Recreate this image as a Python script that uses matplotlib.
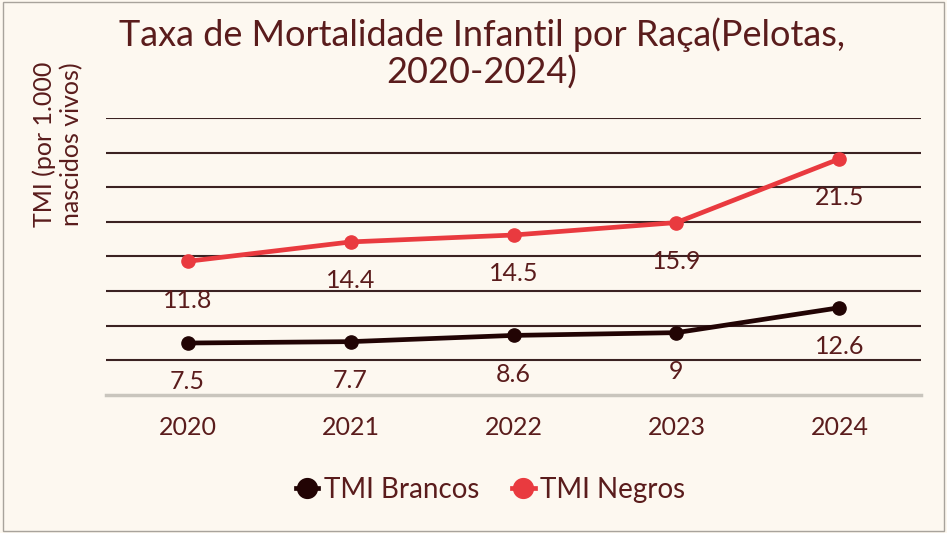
import numpy as np
import matplotlib.pyplot as plt
from matplotlib.patches import Rectangle

# Dados (gráfico de linhas empilhadas)
anos = ['2020', '2021', '2022', '2023', '2024']
tmi_brancos = [7.5, 7.7, 8.6, 9, 12.6]
tmi_negros = [11.8, 14.4, 14.5, 15.9, 21.5]

fundo = '#fdf8f0'
texto = '#5a1c1c'
cor_brancos = '#220404'
cor_negros = '#e93a3f'

plt.rcParams['font.family'] = ['Lato', 'DejaVu Sans']

fig = plt.figure(figsize=(9.47, 5.33), dpi=100, facecolor=fundo)
ax = fig.add_axes([0.112, 0.259, 0.8605, 0.5196])
ax.set_facecolor(fundo)

x = np.arange(len(anos))
brancos = np.array(tmi_brancos)
negros_empilhado = brancos + np.array(tmi_negros)

ax.plot(x, brancos, color=cor_brancos, lw=3.4, marker='o', ms=9.5,
        label='TMI Brancos', zorder=5)
ax.plot(x, negros_empilhado, color=cor_negros, lw=3.4, marker='o', ms=9.5,
        label='TMI Negros', zorder=5)

# Rótulos de dados abaixo dos pontos
for xi, yi, v in zip(x, brancos, tmi_brancos):
    ax.annotate(f'{v:g}', (xi, yi), xytext=(0, -28), textcoords='offset points',
                ha='center', va='center', fontsize=18, color=texto)
for xi, yi, v in zip(x, negros_empilhado, tmi_negros):
    ax.annotate(f'{v:g}', (xi, yi), xytext=(0, -28), textcoords='offset points',
                ha='center', va='center', fontsize=18, color=texto)

ax.set_xlim(-0.5, 4.5)
ax.set_ylim(0, 40)
ax.set_yticks(np.arange(5, 41, 5))
ax.yaxis.grid(True, color='#3b2222', lw=1.5)
ax.set_axisbelow(True)
ax.tick_params(axis='y', left=False, labelleft=False)
ax.set_xticks(x)
ax.set_xticklabels(anos, fontsize=18, color=texto)
ax.tick_params(axis='x', length=0, pad=15)
for s in ['top', 'right', 'left']:
    ax.spines[s].set_visible(False)
ax.spines['bottom'].set_color('#c9c5bd')
ax.spines['bottom'].set_linewidth(2.5)

fig.text(0.061, 0.885, 'TMI (por 1.000\nnascidos vivos)', rotation=90,
         ha='center', va='top', fontsize=18, color=texto, linespacing=1.25)

fig.text(0.509, 0.968, 'Taxa de Mortalidade Infantil por Raça(Pelotas,\n2020-2024)',
         ha='center', va='top', fontsize=26, color=texto, linespacing=1.15)

fig.legend(loc='center', bbox_to_anchor=(0.518, 0.081), ncol=2, frameon=False,
           fontsize=20, handlelength=0.8, columnspacing=1.2, handletextpad=0.2,
           markerscale=1.5, labelcolor=texto)

fig.patches.append(Rectangle((0.003, 0.003), 0.994, 0.994, transform=fig.transFigure,
                             fill=False, edgecolor='#a8a39c', lw=1))

fig.savefig('out.png', dpi=100, facecolor=fundo)
